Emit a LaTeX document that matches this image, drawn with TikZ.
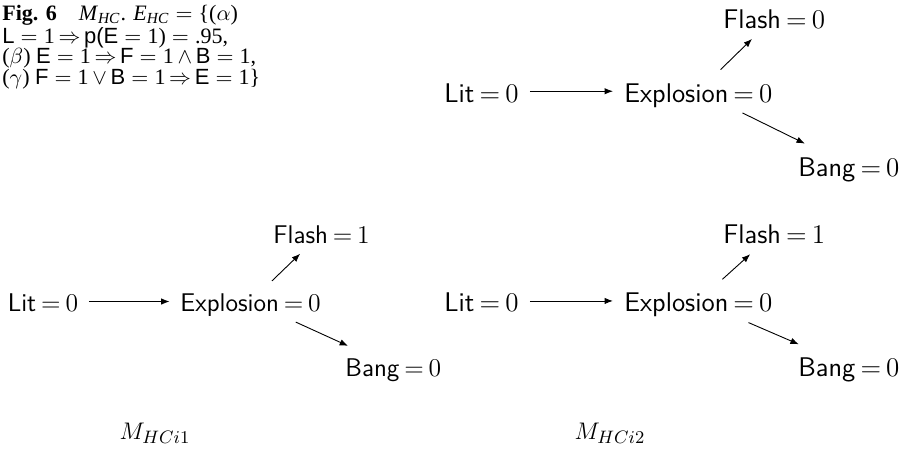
\documentclass[tikz,border=0pt]{standalone}
\usepackage{fontspec}
\newfontfamily\capfont{Liberation Serif}
\newfontfamily\capsans{Liberation Sans}
\usetikzlibrary{arrows.meta}
\newcommand\ceq{\ensuremath{\;=\;}}
\newcommand\vlab[2]{\textsf{#1}\hspace{0.19em}=\hspace{0.19em}#2}
\begin{document}
\begin{tikzpicture}[x=0.5pt,y=-0.5pt,
  vstyle/.style={inner xsep=5.5pt, inner ysep=2.5pt, text height=13.5pt, text depth=2.75pt, anchor=base west, font=\fontsize{13.5}{16}\selectfont},
  vsmall/.style={inner xsep=5.2pt, inner ysep=2.4pt, text height=12.8pt, text depth=2.6pt, anchor=base west, font=\fontsize{12.8}{15}\selectfont},
  arr/.style={-{Latex[length=4.2pt,width=3.2pt]}, line width=0.45pt},
  mlabel/.style={font=\fontsize{13}{15}\selectfont, inner sep=0pt, anchor=base},
  capstyle/.style={font=\capfont\fontsize{11}{10.2}\selectfont, align=left, inner sep=0pt, anchor=north west}]
\useasboundingbox (0,0) rectangle (906,451);

% caption
\node[capstyle] (cap) at (2,5) {%
{\bfseries Fig. 6}\quad\textit{M}\textsubscript{\textit{HC}}. \textit{E}\textsubscript{\textit{HC}}\ceq\{($\alpha$)\\
{\capsans L}\ceq 1\,$\Rightarrow$\,{\capsans p(E}\ceq 1)\ceq .95,\\
($\beta$) {\capsans E}\ceq 1\,$\Rightarrow$\,{\capsans F}\ceq 1\,$\wedge$\,{\capsans B}\ceq 1,\\
($\gamma$) {\capsans F}\ceq 1\,$\vee$\,{\capsans B}\ceq 1\,$\Rightarrow$\,{\capsans E}\ceq 1\}};

% top graph M_HC
\node[vstyle] (litA) at (433,102) {\vlab{Lit}{0}};
\node[vstyle] (expA) at (613,102) {\vlab{Explosion}{0}};
\node[vstyle] (flashA) at (712,28) {\vlab{Flash}{0}};
\node[vstyle] (bangA) at (787,176) {\vlab{Bang}{0}};
\draw[arr] (litA) -- (expA);
\draw[arr] (expA) -- (flashA);
\draw[arr] (expA) -- (bangA);

% bottom left graph M_HCi1
\node[vsmall] (litB) at (-3,311.7) {\vlab{Lit}{0}};
\node[vsmall] (expB) at (169.6,311.7) {\vlab{Explosion}{0}};
\node[vsmall] (flashB) at (262.6,243.3) {\vlab{Flash}{1}};
\node[vsmall] (bangB) at (334.6,376.7) {\vlab{Bang}{0}};
\draw[arr] (litB) -- (expB);
\draw[arr] (expB) -- (flashB);
\draw[arr] (expB) -- (bangB);
\node[mlabel] (mB) at (155,439) {$M_{HCi1}$};

% bottom right graph M_HCi2
\node[vstyle] (litC) at (433,311.7) {\vlab{Lit}{0}};
\node[vstyle] (expC) at (613,311.7) {\vlab{Explosion}{0}};
\node[vstyle] (flashC) at (712,243.3) {\vlab{Flash}{1}};
\node[vstyle] (bangC) at (787,376.7) {\vlab{Bang}{0}};
\draw[arr] (litC) -- (expC);
\draw[arr] (expC) -- (flashC);
\draw[arr] (expC) -- (bangC);
\node[mlabel] (mC) at (610,439) {$M_{HCi2}$};
\end{tikzpicture}
\end{document}
